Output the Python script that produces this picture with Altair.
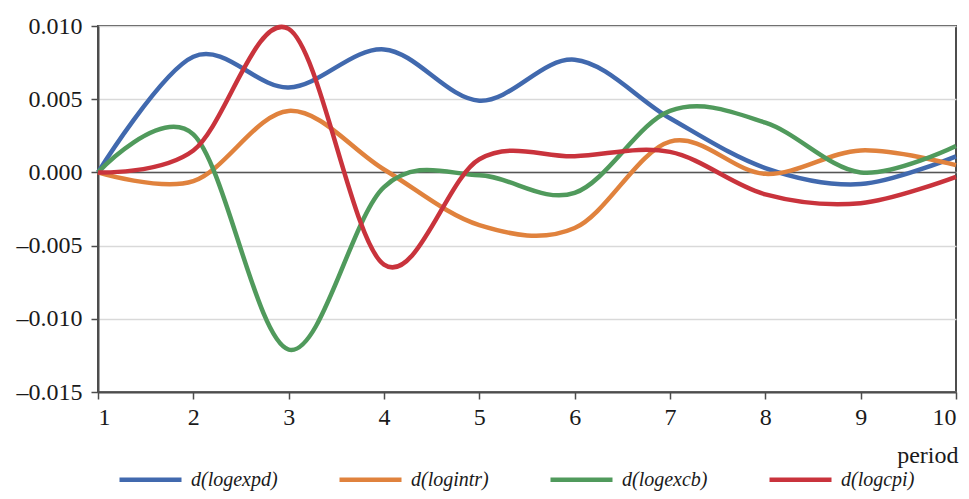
import altair as alt
import pandas as pd

periods = list(range(1, 11))
series_names = ["d(logexpd)", "d(logintr)", "d(logexcb)", "d(logcpi)"]
logexpd = [0.0, 0.0079, 0.0058, 0.0084, 0.0049, 0.0077, 0.0037, 0.0003, -0.0008, 0.0011]
logintr = [0.0, -0.0006, 0.0042, 0.0002, -0.0036, -0.0038, 0.0021, -0.0001, 0.0015, 0.0005]
logexcb = [0.0, 0.0026, -0.0121, -0.0010, -0.0002, -0.0014, 0.0042, 0.0034, 0.0000, 0.0018]
logcpi = [0.0, 0.0015, 0.0098, -0.0063, 0.0009, 0.0011, 0.0014, -0.0015, -0.0021, -0.0003]
colors = ["#4169AE", "#E0823D", "#509A5C", "#C9333C"]
y_ticks = [-0.015, -0.010, -0.005, 0.0, 0.005, 0.010]

rows = []
for name, vals in zip(series_names, [logexpd, logintr, logexcb, logcpi]):
    for p, v in zip(periods, vals):
        rows.append({"period": p, "value": v, "series": name})
df = pd.DataFrame(rows)

FONT = "Liberation Serif"

x_enc = alt.X(
    "period:Q",
    scale=alt.Scale(domain=[1, 10], nice=False, zero=False),
    axis=alt.Axis(
        values=periods, title="period", grid=False, format="d",
        tickSize=7, labelPadding=6, labelFontSize=24, labelFont=FONT,
        labelColor="#1a1a1a", tickColor="#4d4d4d", tickWidth=1.5,
        domainColor="#4d4d4d", domainWidth=2,
        titleFont=FONT, titleFontSize=24, titleFontWeight="normal", titleColor="#1a1a1a",
        titleAlign="right", titleX=860, titleY=70,
        titleBaseline="alphabetic",
    ),
)
y_enc = alt.Y(
    "value:Q",
    scale=alt.Scale(domain=[-0.015, 0.010], nice=False),
    axis=alt.Axis(
        values=y_ticks, title=None,
        labelExpr="datum.value < -0.0000001 ? '\u2013' + format(-datum.value, '.3f') : format(datum.value, '.3f')",
        tickSize=7, labelPadding=9, labelFontSize=24, labelFont=FONT,
        labelColor="#1a1a1a", tickColor="#4d4d4d", tickWidth=1.5,
        domainColor="#4d4d4d", domainWidth=2,
        grid=True, gridColor="#d9d9d9", gridWidth=1.5,
    ),
)

zero = alt.Chart(pd.DataFrame({"value": [0.0]})).mark_rule(
    color="#555555", strokeWidth=1.5
).encode(y=alt.Y("value:Q"))

lines = alt.Chart(df).mark_line(
    interpolate="cardinal", tension=0, strokeWidth=4.5
).encode(
    x=x_enc,
    y=y_enc,
    color=alt.Color(
        "series:N",
        scale=alt.Scale(domain=series_names, range=colors),
        sort=series_names,
        legend=alt.Legend(
            title=None, orient="none", legendX=19, legendY=420,
            direction="horizontal", columns=4,
            symbolType="stroke", symbolSize=3844, symbolStrokeWidth=4.5,
            labelFont=FONT, labelFontStyle="italic", labelFontSize=20,
            labelColor="#1a1a1a", labelOffset=7, columnPadding=52,
            labelBaseline="middle",
            padding=0,
        ),
    ),
)

chart = alt.layer(zero, lines).properties(
    width=858, height=366,
    autosize=alt.AutoSizeParams(type="none"),
    padding={"left": 90, "top": 18, "right": 5, "bottom": 99},
).configure_view(
    stroke="#4d4d4d", strokeWidth=2
)

chart.save("out.html", embed_options={"renderer": "svg", "actions": False})
